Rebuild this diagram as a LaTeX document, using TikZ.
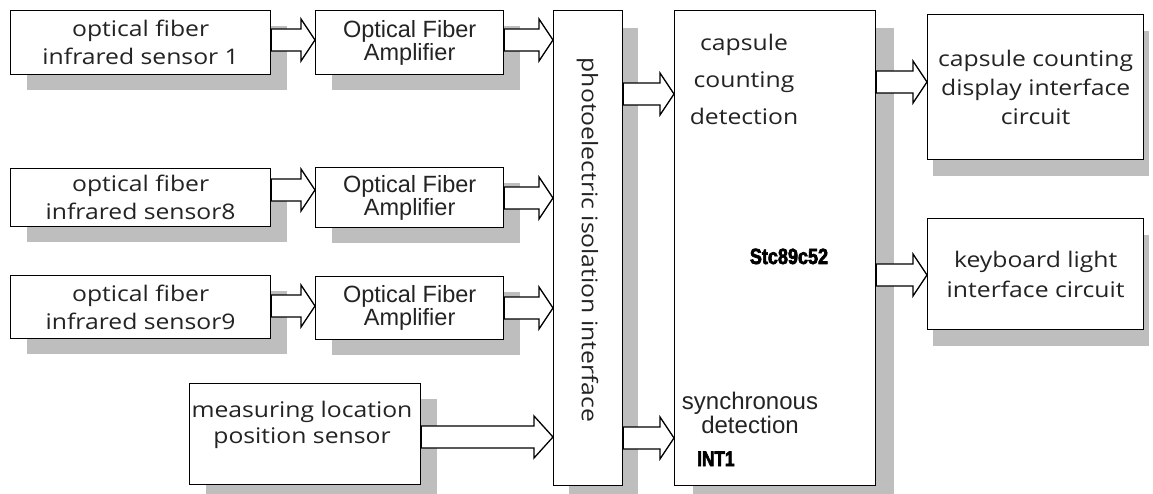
\documentclass[tikz,border=0pt]{standalone}
\usepackage{fontspec}
\setmainfont{Open Sans}[FakeStretch=1.15]
\newfontfamily\arf{Liberation Sans}
\newfontfamily\chipf[FakeStretch=0.82,FakeBold=3]{Liberation Sans Bold}
\usetikzlibrary{calc,shadows}
\definecolor{shadowgray}{RGB}{190,190,190}
\definecolor{txt}{RGB}{35,35,35}
\newcommand\yhfont[1]{\fontsize{21.5}{#1}\selectfont}
\newcommand\blockarrow[4]{%
  \path (0,#3) coordinate (bay);
  \draw[blockarr] ($(#1.east|-bay)+(0,-11)$) -- ($(#2.west|-bay)+(-#4,-11)$) -- ++(0,-10)
    -- (#2.west|-bay) -- ($(#2.west|-bay)+(-#4,21)$) -- ++(0,-10)
    -- ($(#1.east|-bay)+(0,11)$) -- cycle;}
\tikzset{
  box/.style={draw=black, line width=1.3pt, fill=white, inner sep=0pt, anchor=north west,
    align=center, text=txt},
  shad/.style={drop shadow={shadow xshift=16pt, shadow yshift=-15pt, fill=shadowgray, opacity=1}},
  shadr/.style={drop shadow={shadow xshift=5pt, shadow yshift=-16pt, fill=shadowgray, opacity=1}},
  blockarr/.style={draw=black, line width=1.3pt, fill=white, line join=miter},
  sens/.style={box, shad, minimum width=260pt, font=\yhfont{28}},
  amp/.style={box, shad, minimum width=188pt, font=\arf\fontsize{23.5}{21}\selectfont},
  lbl/.style={text=txt, inner sep=0pt},
}
\begin{document}
\begin{tikzpicture}[x=1pt,y=-1pt]
\useasboundingbox[fill=white] (0,0) rectangle (1153,494);
% left column
\node[sens, minimum height=64pt] (s1) at (10,10) {optical fiber\\infrared sensor 1};
\node[sens, minimum height=58pt] (s8) at (10,168) {optical fiber\\infrared sensor8};
\node[sens, minimum height=63pt] (s9) at (10,275) {optical fiber\\infrared sensor9};
\node[box, shad, minimum width=231pt, minimum height=101pt] (meas) at (189,383) {};
\node[lbl, align=center, anchor=north, font=\yhfont{26}] (measT) at (302,401) {measuring location\\position sensor};
% amplifiers
\node[amp, minimum height=64pt] (a1) at (315,10) {Optical Fiber\\Amplifier};
\node[amp, minimum height=60pt] (a8) at (315,167) {Optical Fiber\\Amplifier};
\node[amp, minimum height=63pt] (a9) at (315,276) {Optical Fiber\\Amplifier};
% photoelectric isolation
\node[box, drop shadow={shadow xshift=15pt, shadow yshift=-17pt, fill=shadowgray, opacity=1},
  minimum width=69pt, minimum height=475pt] (pe) at (553,10) {};
\node[lbl, rotate=-90, font=\yhfont{26}] (peT) at (587.5,240) {photoelectric isolation interface};
% MCU
\node[box, drop shadow={shadow xshift=18pt, shadow yshift=-17pt, fill=shadowgray, opacity=1},
  minimum width=201pt, minimum height=475pt] (mcu) at (674,10) {};
\node[lbl, align=center, anchor=north, font=\yhfont{37}] (cntT) at (744,34) {capsule\\counting\\detection};
\node[lbl, anchor=base, text=black, font=\chipf\fontsize{22}{22}\selectfont] (stc) at (789,264) {Stc89c52};
\node[lbl, align=center, anchor=north, font=\arf\fontsize{24}{24}\selectfont] (syncT) at (750,392) {synchronous\\detection};
\node[lbl, anchor=base west, text=black, font=\chipf\fontsize{21}{21}\selectfont] (int) at (697,466) {INT1};
% right column
\node[box, shadr, minimum width=216pt, minimum height=145pt, font=\yhfont{29}] (disp) at (927,14) {capsule counting\\display interface\\circuit};
\node[box, shadr, minimum width=216pt, minimum height=111pt, font=\yhfont{30}] (kbd) at (927,218) {keyboard light\\interface circuit};
% block arrows
\blockarrow{s1}{a1}{40}{14}
\blockarrow{a1}{pe}{40}{14}
\blockarrow{s8}{a8}{190}{14}
\blockarrow{a8}{pe}{198}{14}
\blockarrow{s9}{a9}{306}{14}
\blockarrow{a9}{pe}{308}{14}
\blockarrow{meas}{pe}{437}{19}
\blockarrow{pe}{mcu}{94}{14}
\blockarrow{pe}{mcu}{438}{14}
\blockarrow{mcu}{disp}{82}{14}
\blockarrow{mcu}{kbd}{275}{14}
\end{tikzpicture}
\end{document}
